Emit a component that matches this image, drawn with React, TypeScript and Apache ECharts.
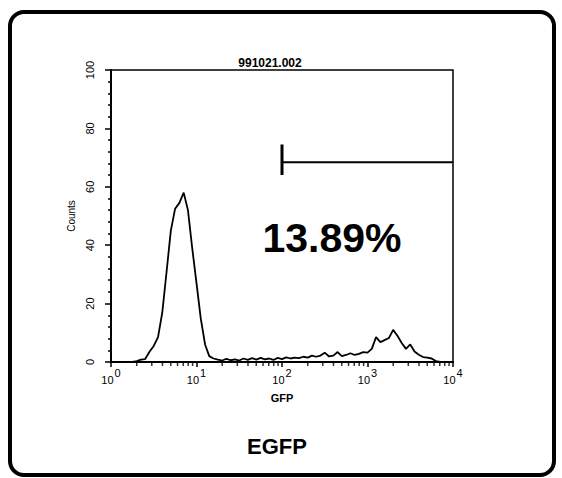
import React, { useEffect, useRef } from "react";
import * as echarts from "echarts";

// GFP channel values (log-spaced bins)
const gfp = [1, 1.12, 1.26, 1.41, 1.58, 1.78, 2.0, 2.24, 2.51, 2.82, 3.16, 3.55, 3.98, 4.47, 5.01, 5.62, 6.31, 7.08, 7.94, 8.91,
  10, 11.2, 12.6, 14.1, 15.8, 17.8, 20, 22.4, 25.1, 28.2, 31.6, 35.5, 39.8, 44.7, 50.1, 56.2, 63.1, 70.8, 79.4, 89.1,
  100, 112, 126, 141, 158, 178, 200, 224, 251, 282, 316, 355, 398, 447, 501, 562, 631, 708, 794, 891,
  1000, 1122, 1259, 1413, 1585, 1778, 1995, 2239, 2512, 2818, 3162, 3548, 3981, 4467, 5012, 5623, 6310, 7079, 7943, 8913, 10000];
const counts = [0, 0, 0, 0, 0, 0, 0.3, 0.8, 1.0, 3.5, 5.5, 8.5, 17, 31, 45, 52.5, 54.5, 58, 52, 39,
  27, 15, 6, 2, 1.2, 0.8, 0.5, 1.1, 0.6, 0.9, 0.5, 1.2, 0.7, 1.3, 0.8, 1.4, 0.9, 1.2, 0.7, 1.4,
  1.0, 1.6, 1.2, 1.5, 1.3, 1.8, 1.5, 2.2, 1.8, 2.2, 3.2, 1.9, 2.2, 3.4, 2.0, 2.4, 3.0, 2.4, 2.8, 3.4,
  3.2, 4.5, 8.5, 6.8, 7.5, 8.2, 11, 9, 6.5, 4.5, 6, 3.6, 2.5, 1.7, 1.5, 1.2, 0.3, 0, 0, 0, 0];

// Gate marker
const gateStart = 100;
const gateEnd = 10000;
const gateLevel = 68.4;
const gateBarLow = 64;
const gateBarHigh = 74.5;

// Minor log ticks on the x axis
const minorTicks = [2, 3, 4, 5, 6, 7, 8, 9, 20, 30, 40, 50, 60, 70, 80, 90, 200, 300, 400, 500, 600, 700, 800, 900,
  2000, 3000, 4000, 5000, 6000, 7000, 8000, 9000];

const sampleName = "991021.002";
const percentText = "13.89%";
const footerText = "EGFP";
const yName = "Counts";
const xName = "GFP";

const FONT = "'Liberation Sans', Arial, sans-serif";

export default function App() {
  const ref = useRef<HTMLDivElement>(null);
  useEffect(() => {
    if (!ref.current) return;
    const chart = echarts.init(ref.current, null, { renderer: "svg" });
    chart.setOption({
      animation: false,
      backgroundColor: "#fff",
      title: {
        text: sampleName,
        left: 265,
        top: 52,
        textAlign: "center",
        textStyle: { fontFamily: FONT, fontSize: 12, fontWeight: "bold", color: "#000" },
      },
      grid: { left: 111, right: 109, top: 70, bottom: 116, show: true, borderColor: "#000", borderWidth: 1.5 },
      xAxis: {
        type: "log",
        logBase: 10,
        min: 1,
        max: 10000,
        name: xName,
        nameLocation: "middle",
        nameGap: 30,
        nameTextStyle: { fontFamily: FONT, fontSize: 11, color: "#000", fontWeight: "bold" },
        axisLine: { lineStyle: { color: "#000", width: 2 } },
        axisTick: { show: true, length: 5, lineStyle: { color: "#000", width: 1.5 } },
        splitLine: { show: false },
        axisLabel: {
          margin: 5,
          formatter: (v: number) => `{b|10}{s|${Math.round(Math.log10(v))}}`,
          rich: {
            b: { fontFamily: FONT, fontSize: 11, color: "#000", verticalAlign: "bottom", lineHeight: 18 },
            s: { fontFamily: FONT, fontSize: 11, color: "#000", verticalAlign: "top", lineHeight: 18, padding: [0, 0, 7, 1] },
          },
        },
      },
      yAxis: {
        type: "value",
        min: 0,
        max: 100,
        interval: 20,
        name: yName,
        nameLocation: "middle",
        nameGap: 33,
        nameRotate: 90,
        nameTextStyle: { fontFamily: FONT, fontSize: 10, color: "#000" },
        axisLine: { show: true, lineStyle: { color: "#000", width: 2 } },
        axisTick: { show: true, length: 6, lineStyle: { color: "#000", width: 1.5 } },
        minorTick: { show: true, splitNumber: 5, length: 3, lineStyle: { color: "#000", width: 1.5 } },
        splitLine: { show: false },
        axisLabel: {
          rotate: 90,
          margin: 16,
          fontFamily: FONT,
          fontSize: 11,
          color: "#000",
        },
      },
      graphic: [
        {
          type: "rect",
          shape: { x: 10, y: 12, width: 544, height: 463, r: 14 },
          style: { fill: "none", stroke: "#000", lineWidth: 4 },
          silent: true,
        },
        {
          type: "text",
          x: 332,
          y: 238,
          style: {
            text: percentText,
            fontFamily: FONT,
            fontSize: 41,
            fontWeight: "bold",
            fill: "#000",
            align: "center",
            verticalAlign: "middle",
          },
        },
        {
          type: "text",
          x: 277,
          y: 446,
          style: {
            text: footerText,
            fontFamily: FONT,
            fontSize: 22,
            fontWeight: "bold",
            fill: "#000",
            align: "center",
            verticalAlign: "middle",
          },
        },
      ],
      series: [
        {
          type: "line",
          data: gfp.map((x, i) => [x, counts[i]]),
          symbol: "none",
          lineStyle: { color: "#000", width: 1.8 },
          z: 3,
        },
        {
          type: "line",
          data: [[gateStart, gateLevel], [gateEnd, gateLevel]],
          symbol: "none",
          lineStyle: { color: "#000", width: 2 },
          z: 4,
        },
        {
          type: "line",
          data: [[gateStart, gateBarLow], [gateStart, gateBarHigh]],
          symbol: "none",
          lineStyle: { color: "#000", width: 3 },
          z: 4,
        },
        {
          type: "scatter",
          data: minorTicks.map((x) => [x, 0]),
          symbol: "rect",
          symbolSize: [1.5, 3],
          symbolOffset: [0, 2.5],
          itemStyle: { color: "#000" },
          clip: false,
          silent: true,
          z: 5,
        },
      ],
    });
    return () => chart.dispose();
  }, []);
  return (
    <div
      ref={ref}
      style={{ position: "fixed", left: 0, top: 0, width: 562, height: 478, background: "#fff" }}
    />
  );
}
